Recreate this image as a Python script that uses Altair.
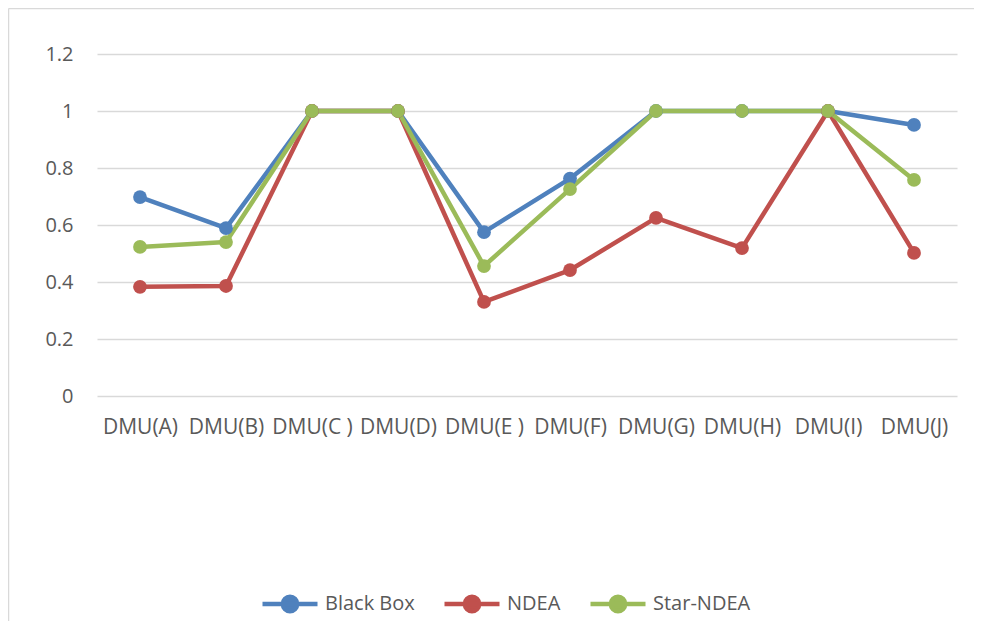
import altair as alt
import pandas as pd

categories = ["DMU(A)", "DMU(B)", "DMU(C )", "DMU(D)", "DMU(E )",
              "DMU(F)", "DMU(G)", "DMU(H)", "DMU(I)", "DMU(J)"]
black_box = [0.698, 0.589, 1.0, 1.0, 0.575, 0.763, 1.0, 1.0, 1.0, 0.951]
ndea = [0.383, 0.386, 1.0, 1.0, 0.330, 0.442, 0.625, 0.519, 1.0, 0.502]
star_ndea = [0.523, 0.540, 1.0, 1.0, 0.456, 0.726, 1.0, 1.0, 1.0, 0.758]
series_names = ["Black Box", "NDEA", "Star-NDEA"]
series_colors = ["#4f81bd", "#c0504d", "#9bbb59"]
y_ticks = [0, 0.2, 0.4, 0.6, 0.8, 1.0, 1.2]

rows = []
for name, vals in zip(series_names, [black_box, ndea, star_ndea]):
    for i, (c, v) in enumerate(zip(categories, vals)):
        rows.append({"cat": c, "value": v, "series": name, "order": i})
df = pd.DataFrame(rows)

W, H = 860, 342
PAD_R = 17
PAD_B = 225
FONT = "Open Sans"
GREY = "#595959"

legend_path = ("M-1,0L1,0M0.26,0A0.26,0.26,0,1,1,-0.26,0"
               "A0.26,0.26,0,1,1,0.26,0Z")

base = alt.Chart(df).encode(
    x=alt.X("cat:N", sort=categories,
            scale=alt.Scale(type="point", padding=0.5),
            axis=alt.Axis(title=None, labelAngle=0, domain=False, ticks=False,
                          grid=False, labelPadding=20, labelFont=FONT,
                          labelFontSize=21, labelColor=GREY)),
    y=alt.Y("value:Q", scale=alt.Scale(domain=[0, 1.2], nice=False),
            axis=alt.Axis(title=None, values=y_ticks, format="~g",
                          domain=False, ticks=False, gridColor="#d9d9d9",
                          gridWidth=1.5, labelPadding=24, labelFont=FONT,
                          labelFontSize=20, labelColor=GREY)),
    color=alt.Color("series:N",
                    scale=alt.Scale(domain=series_names, range=series_colors),
                    legend=alt.Legend(title=None, orient="none", direction="horizontal",
                                      legendX=163, legendY=520,
                                      symbolType=legend_path, symbolSize=3025,
                                      symbolStrokeWidth=4.5, symbolFillColor=None,
                                      labelOffset=5, columnPadding=20,
                                      gridAlign="none",
                                      labelFont=FONT, labelFontSize=20,
                                      labelColor=GREY)),
    order="order:Q",
)

lines = base.mark_line(strokeWidth=4.5, strokeCap="round", strokeJoin="round")
points = base.mark_point(filled=True, size=190, opacity=1, shape="circle")

frame_top = alt.Chart(alt.Data(values=[{"k": 1}])).mark_rule(
    color="#d9d9d9", strokeWidth=1.5).encode(
    x=alt.value(-88.5), x2=alt.value(W + PAD_R),
    y=alt.value(-45.5), y2=alt.value(-45.5))
frame_left = alt.Chart(alt.Data(values=[{"k": 2}])).mark_rule(
    color="#d9d9d9", strokeWidth=1.5).encode(
    x=alt.value(-88.5), x2=alt.value(-88.5),
    y=alt.value(-45.5), y2=alt.value(H + PAD_B))

chart = alt.layer(frame_top, frame_left, lines, points).properties(
    width=W, height=H,
    autosize=alt.AutoSizeParams(type="none"),
    padding={"left": 89, "top": 46, "right": PAD_R, "bottom": PAD_B},
).configure(background="white", view=alt.ViewConfig(stroke=None))

chart.save("out.html", embed_options={"renderer": "svg", "actions": False})
